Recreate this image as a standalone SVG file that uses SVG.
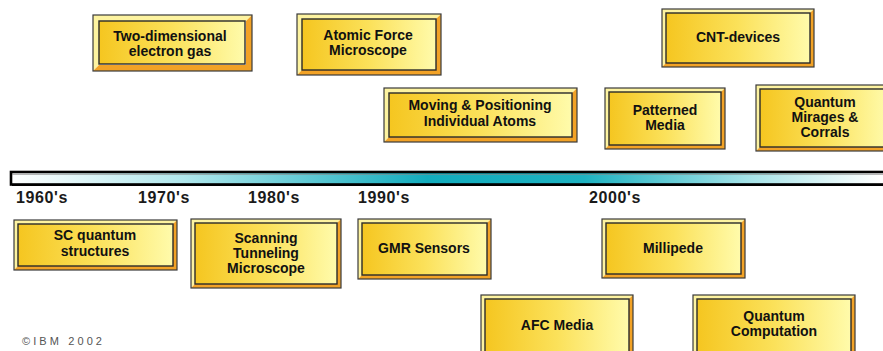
<svg xmlns="http://www.w3.org/2000/svg" width="883" height="351" viewBox="0 0 883 351">
<defs>
<linearGradient id="face" x1="0" y1="0" x2="1" y2="0">
<stop offset="0" stop-color="#f5c620"/>
<stop offset="0.5" stop-color="#fbe15a"/>
<stop offset="1" stop-color="#fffbab"/>
</linearGradient>
<linearGradient id="bar" gradientUnits="userSpaceOnUse" x1="10" y1="0" x2="880" y2="0">
<stop offset="0" stop-color="#ffffff"/>
<stop offset="0.2" stop-color="#b0e7ec"/>
<stop offset="0.48" stop-color="#12acbd"/>
<stop offset="0.66" stop-color="#1eb2c1"/>
<stop offset="0.85" stop-color="#a6e3e8"/>
<stop offset="1" stop-color="#ffffff"/>
</linearGradient>
</defs>
<style>
.lt{fill:#fdf3a0}
.dk{fill:#f2a226}
.ol{fill:none;stroke:#3a3a3a;stroke-width:1.2}
.fc{fill:url(#face);stroke:#2a2a2a;stroke-width:1.4}
.t{font-family:"Liberation Sans",Arial,sans-serif;font-weight:bold;font-size:14px;fill:#111;text-anchor:middle}
.yr{font-family:"Liberation Sans",Arial,sans-serif;font-weight:bold;font-size:16px;fill:#1a1a1a;letter-spacing:0.6px}
.cp{font-family:"Liberation Sans",Arial,sans-serif;font-size:11px;fill:#555;letter-spacing:3.1px}
</style>
<rect width="883" height="351" fill="#ffffff"/>

<g id="timeline">
<rect x="11" y="172" width="880" height="12.5" fill="url(#bar)" stroke="#000" stroke-width="2.6"/>
<line x1="12" y1="174.5" x2="883" y2="174.5" stroke="#888" stroke-width="1" opacity="0.6"/>
<line x1="12" y1="185.3" x2="883" y2="185.3" stroke="#000" stroke-width="1.5"/>
<text class="yr" x="16" y="203">1960's</text>
<text class="yr" x="138" y="203">1970's</text>
<text class="yr" x="248" y="203">1980's</text>
<text class="yr" x="358" y="203">1990's</text>
<text class="yr" x="589" y="203">2000's</text>
</g>

<g id="connectors"></g>

<g id="n-2deg">
<polygon class="lt" points="93,15 252,15 246,21 99,21 99,65 93,71"/>
<polygon class="dk" points="252,15 252,71 93,71 99,65 246,65 246,21"/>
<rect class="ol" x="93" y="15" width="159" height="56"/>
<rect class="fc" x="99" y="21" width="146" height="43"/>
<text class="t" x="170" y="41">Two-dimensional</text>
<text class="t" x="170" y="56">electron gas</text>
</g>

<g id="n-afm">
<polygon class="lt" points="297,14 441,14 436,19 302,19 302,70 297,75"/>
<polygon class="dk" points="441,14 441,75 297,75 302,70 436,70 436,19"/>
<rect class="ol" x="297" y="14" width="144" height="61"/>
<rect class="fc" x="302" y="19" width="134" height="51"/>
<text class="t" x="368" y="40">Atomic Force</text>
<text class="t" x="368" y="55">Microscope</text>
</g>

<g id="n-moving">
<polygon class="lt" points="384,88 577,88 572,93 389,93 389,137 384,142"/>
<polygon class="dk" points="577,88 577,142 384,142 389,137 572,137 572,93"/>
<rect class="ol" x="384" y="88" width="193" height="54"/>
<rect class="fc" x="389" y="93" width="183" height="44"/>
<text class="t" x="480" y="110">Moving &amp; Positioning</text>
<text class="t" x="480" y="126">Individual Atoms</text>
</g>

<g id="n-cnt">
<polygon class="lt" points="662,9 814,9 810,13 666,13 666,63 662,67"/>
<polygon class="dk" points="814,9 814,67 662,67 666,63 810,63 810,13"/>
<rect class="ol" x="662" y="9" width="152" height="58"/>
<rect class="fc" x="666" y="13" width="144" height="50"/>
<text class="t" x="738" y="42">CNT-devices</text>
</g>

<g id="n-patterned">
<polygon class="lt" points="605,88 725,88 721,92 609,92 609,145 605,149"/>
<polygon class="dk" points="725,88 725,149 605,149 609,145 721,145 721,92"/>
<rect class="ol" x="605" y="88" width="120" height="61"/>
<rect class="fc" x="609" y="92" width="112" height="53"/>
<text class="t" x="665" y="115">Patterned</text>
<text class="t" x="665" y="130">Media</text>
</g>

<g id="n-mirages">
<polygon class="lt" points="756,85 892,85 888,89 760,89 760,147 756,151"/>
<polygon class="dk" points="892,85 892,151 756,151 760,147 888,147 888,89"/>
<rect class="ol" x="756" y="85" width="136" height="66"/>
<rect class="fc" x="760" y="89" width="128" height="58"/>
<text class="t" x="825" y="107">Quantum</text>
<text class="t" x="825" y="122">Mirages &amp;</text>
<text class="t" x="825" y="137">Corrals</text>
</g>

<g id="n-sc">
<polygon class="lt" points="14,220 177,220 173,224 18,224 18,266 14,270"/>
<polygon class="dk" points="177,220 177,270 14,270 18,266 173,266 173,224"/>
<rect class="ol" x="14" y="220" width="163" height="50"/>
<rect class="fc" x="18" y="224" width="155" height="42"/>
<text class="t" x="95" y="240">SC quantum</text>
<text class="t" x="95" y="256">structures</text>
</g>

<g id="n-stm">
<polygon class="lt" points="191,219 341,219 337,223 195,223 195,284 191,288"/>
<polygon class="dk" points="341,219 341,288 191,288 195,284 337,284 337,223"/>
<rect class="ol" x="191" y="219" width="150" height="69"/>
<rect class="fc" x="195" y="223" width="142" height="61"/>
<text class="t" x="266" y="243">Scanning</text>
<text class="t" x="266" y="258">Tunneling</text>
<text class="t" x="266" y="273">Microscope</text>
</g>

<g id="n-gmr">
<polygon class="lt" points="358,219 491,219 487,223 362,223 362,275 358,279"/>
<polygon class="dk" points="491,219 491,279 358,279 362,275 487,275 487,223"/>
<rect class="ol" x="358" y="219" width="133" height="60"/>
<rect class="fc" x="362" y="223" width="125" height="52"/>
<text class="t" x="424" y="253">GMR Sensors</text>
</g>

<g id="n-millipede">
<polygon class="lt" points="602,219 745,219 741,223 606,223 606,274 602,278"/>
<polygon class="dk" points="745,219 745,278 602,278 606,274 741,274 741,223"/>
<rect class="ol" x="602" y="219" width="143" height="59"/>
<rect class="fc" x="606" y="223" width="135" height="51"/>
<text class="t" x="673" y="253">Millipede</text>
</g>

<g id="n-afc">
<polygon class="lt" points="481,295 633,295 629,299 485,299 485,355 481,359"/>
<polygon class="dk" points="633,295 633,359 481,359 485,355 629,355 629,299"/>
<rect class="ol" x="481" y="295" width="152" height="64"/>
<rect class="fc" x="485" y="299" width="144" height="56"/>
<text class="t" x="557" y="330">AFC Media</text>
</g>

<g id="n-qc">
<polygon class="lt" points="693,295 855,295 851,299 697,299 697,355 693,359"/>
<polygon class="dk" points="855,295 855,359 693,359 697,355 851,355 851,299"/>
<rect class="ol" x="693" y="295" width="162" height="64"/>
<rect class="fc" x="697" y="299" width="154" height="56"/>
<text class="t" x="774" y="321">Quantum</text>
<text class="t" x="774" y="336">Computation</text>
</g>

<text class="cp" x="22" y="345">©IBM 2002</text>
</svg>
